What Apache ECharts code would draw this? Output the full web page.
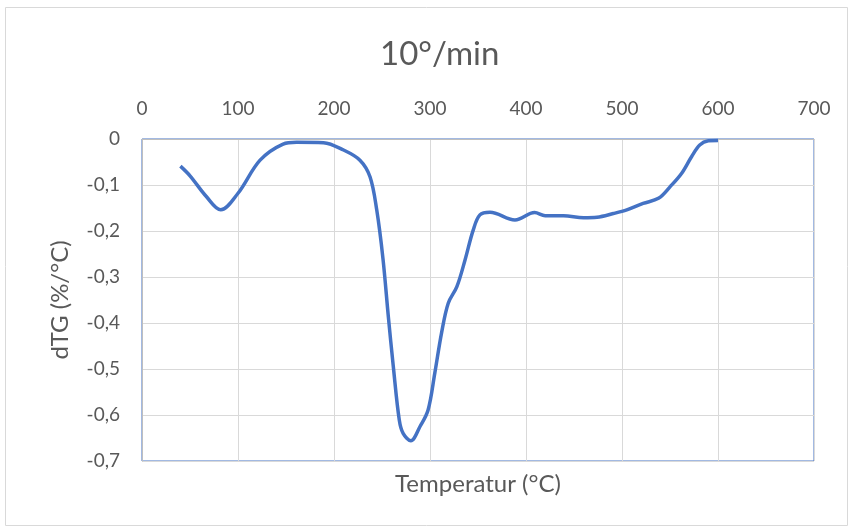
<!DOCTYPE html>
<html>
<head>
<meta charset="utf-8">
<script src="https://cdn.jsdelivr.net/npm/echarts@6/dist/echarts.min.js"></script>
<style>
  html,body{margin:0;padding:0;background:#fff;}
  #main{width:852px;height:530px;}
</style>
</head>
<body>
<div id="main"></div>
<script>
// temperatura (°C) i dTG (%/°C)
var temps = [40, 50, 67, 82, 100, 123, 147, 161, 189, 210, 227, 237.5, 244.5, 251, 256.6, 261.8, 268, 272, 280, 289.6, 298, 305, 312, 319, 328, 336.5, 345, 352, 362.5, 388.5, 409, 420, 439, 460, 474, 491, 505, 522, 538, 550, 562, 572.6, 581, 590, 600];
var dtg = [-0.059, -0.08, -0.125, -0.154, -0.118, -0.046, -0.011, -0.007, -0.008, -0.024, -0.046, -0.082, -0.154, -0.26, -0.386, -0.495, -0.611, -0.64, -0.656, -0.625, -0.589, -0.509, -0.422, -0.357, -0.321, -0.263, -0.198, -0.165, -0.159, -0.176, -0.16, -0.167, -0.167, -0.171, -0.17, -0.162, -0.154, -0.14, -0.129, -0.104, -0.075, -0.038, -0.013, -0.004, -0.003];
var xTicks = [0, 700, 100];   // min, max, krok
var yTicks = [-0.7, 0, 0.1];

var pts = temps.map(function(t, i){ return [t, dtg[i]] })
var txt = '#595959'
var font = 'Lato'

var chart = echarts.init(document.getElementById('main'))
chart.setOption({
  animation: false,
  title: {
    text: '10°/min',
    left: 375,
    top: 33,
    textStyle: {color: txt, fontSize: 33, fontWeight: 'normal', fontFamily: font}
  },
  graphic: [{
    type: 'rect',
    shape: {x: 5.5, y: 7.5, width: 842, height: 518},
    style: {fill: null, stroke: '#d9d9d9', lineWidth: 1}
  }],
  grid: {
    left: 142, right: 38, top: 139, bottom: 69,
    show: true, borderColor: '#4472C4', borderWidth: 1
  },
  xAxis: {
    type: 'value',
    position: 'top',
    min: xTicks[0], max: xTicks[1], interval: xTicks[2],
    name: 'Temperatur (°C)',
    nameLocation: 'middle',
    nameGap: -357,
    nameTextStyle: {color: txt, fontSize: 24, fontFamily: font},
    axisLine: {show: true, lineStyle: {color: '#bfbfbf', width: 1}},
    axisTick: {show: false},
    axisLabel: {color: txt, fontSize: 19, fontFamily: font, margin: 21},
    splitLine: {show: true, lineStyle: {color: '#d9d9d9', width: 1}}
  },
  yAxis: {
    type: 'value',
    min: yTicks[0], max: yTicks[1], interval: yTicks[2],
    name: 'dTG (%/°C)',
    nameLocation: 'middle',
    nameGap: 70,
    nameTextStyle: {color: txt, fontSize: 24, fontFamily: font},
    axisLine: {show: true, lineStyle: {color: '#bfbfbf', width: 1}},
    axisTick: {show: false},
    axisLabel: {
      color: txt, fontSize: 19, fontFamily: font, margin: 22,
      formatter: function(v){ return (Math.round(v*10)/10).toString().replace('.', ',') }
    },
    splitLine: {show: true, lineStyle: {color: '#d9d9d9', width: 1}}
  },
  series: [{
    type: 'line',
    data: pts,
    smooth: 0.35,
    showSymbol: false,
    lineStyle: {color: '#4472C4', width: 3.5}
  }]
})
</script>
</body>
</html>
